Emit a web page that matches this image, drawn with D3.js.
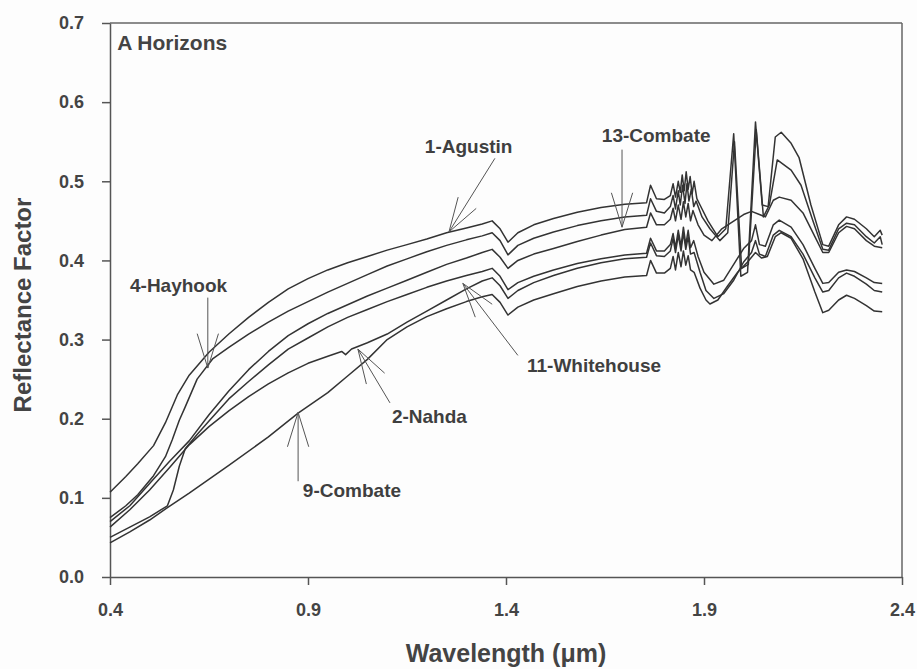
<!DOCTYPE html>
<html>
<head>
<meta charset="utf-8">
<script src="https://cdn.jsdelivr.net/npm/d3@7"></script>
<style>
  body { margin: 0; background: #fdfdfd; }
  svg { display: block; font-family: "Liberation Sans", Arial, sans-serif; }
  .axis path, .axis line { stroke: #555; stroke-width: 1.5; }
  .axis text { font-size: 18px; font-weight: bold; fill: #444; }
  .spectrum { fill: none; stroke: #333; stroke-width: 1.5; stroke-linejoin: round; }
  .note { font-size: 19px; font-weight: bold; fill: #3f3f3f; }
  .pointer { stroke: #555; stroke-width: 1; fill: none; }
</style>
</head>
<body>
<div id="chart"></div>
<script>
// tick values
var xTicks = [0.4, 0.9, 1.4, 1.9, 2.4];
var yTicks = [0.0, 0.1, 0.2, 0.3, 0.4, 0.5, 0.6, 0.7];

// spectra, [wavelength (um), reflectance factor]
var agustin = [[0.40,0.107],[0.44,0.127],[0.47,0.143],[0.51,0.166],[0.54,0.195],[0.57,0.23],[0.60,0.255],[0.65,0.284],[0.70,0.307],[0.75,0.328],[0.80,0.347],[0.85,0.364],[0.90,0.377],[0.95,0.388],[1.00,0.397],[1.05,0.405],[1.10,0.413],[1.15,0.42],[1.20,0.427],[1.25,0.435],[1.30,0.441],[1.34,0.446],[1.365,0.45],[1.385,0.44],[1.405,0.423],[1.43,0.435],[1.47,0.445],[1.52,0.453],[1.58,0.461],[1.64,0.467],[1.70,0.471],[1.755,0.473],[1.765,0.495],[1.78,0.478],[1.80,0.477],[1.815,0.482],[1.822,0.497],[1.828,0.48],[1.835,0.5],[1.84,0.486],[1.845,0.508],[1.85,0.488],[1.855,0.512],[1.86,0.49],[1.865,0.506],[1.87,0.484],[1.875,0.5],[1.882,0.478],[1.89,0.47],[1.91,0.45],[1.935,0.43],[1.955,0.44],[1.975,0.56],[1.993,0.38],[2.01,0.385],[2.03,0.575],[2.047,0.47],[2.062,0.468],[2.08,0.556],[2.095,0.562],[2.12,0.548],[2.14,0.53],[2.17,0.47],[2.20,0.42],[2.215,0.418],[2.24,0.445],[2.26,0.455],[2.28,0.452],[2.31,0.44],[2.33,0.43],[2.345,0.438],[2.35,0.432]];

var hayhook = [[0.40,0.075],[0.44,0.09],[0.47,0.104],[0.51,0.128],[0.54,0.152],[0.557,0.173],[0.575,0.198],[0.59,0.215],[0.62,0.25],[0.66,0.276],[0.70,0.29],[0.75,0.307],[0.80,0.322],[0.85,0.336],[0.90,0.348],[0.95,0.36],[1.00,0.371],[1.05,0.382],[1.10,0.393],[1.15,0.402],[1.20,0.411],[1.25,0.419],[1.30,0.426],[1.34,0.431],[1.365,0.435],[1.385,0.425],[1.405,0.407],[1.43,0.419],[1.47,0.428],[1.52,0.436],[1.58,0.444],[1.64,0.45],[1.70,0.455],[1.755,0.457],[1.765,0.478],[1.78,0.462],[1.80,0.46],[1.815,0.468],[1.822,0.482],[1.828,0.465],[1.835,0.488],[1.84,0.47],[1.846,0.495],[1.852,0.472],[1.857,0.497],[1.862,0.475],[1.868,0.49],[1.874,0.468],[1.88,0.475],[1.895,0.455],[1.915,0.44],[1.94,0.425],[1.96,0.435],[1.977,0.55],[1.995,0.39],[2.012,0.395],[2.032,0.565],[2.05,0.455],[2.065,0.47],[2.085,0.527],[2.12,0.514],[2.145,0.495],[2.175,0.45],[2.20,0.414],[2.215,0.413],[2.24,0.44],[2.26,0.447],[2.28,0.445],[2.31,0.43],[2.33,0.422],[2.345,0.43],[2.35,0.42]];

var combate13 = [[0.40,0.07],[0.45,0.09],[0.50,0.118],[0.55,0.146],[0.60,0.172],[0.65,0.205],[0.70,0.235],[0.75,0.262],[0.80,0.285],[0.85,0.305],[0.90,0.32],[0.95,0.333],[1.00,0.344],[1.05,0.355],[1.10,0.365],[1.15,0.375],[1.20,0.385],[1.25,0.395],[1.30,0.403],[1.34,0.41],[1.365,0.414],[1.385,0.404],[1.405,0.39],[1.43,0.4],[1.47,0.408],[1.52,0.415],[1.58,0.424],[1.64,0.432],[1.70,0.439],[1.755,0.442],[1.765,0.46],[1.78,0.445],[1.80,0.445],[1.815,0.452],[1.822,0.466],[1.828,0.45],[1.835,0.47],[1.842,0.452],[1.848,0.474],[1.854,0.455],[1.86,0.472],[1.866,0.45],[1.872,0.463],[1.885,0.445],[1.90,0.432],[1.92,0.425],[1.945,0.44],[1.97,0.448],[2.0,0.458],[2.02,0.462],[2.04,0.458],[2.055,0.455],[2.075,0.476],[2.09,0.48],[2.12,0.476],[2.15,0.46],[2.18,0.43],[2.20,0.41],[2.215,0.41],[2.24,0.435],[2.26,0.443],[2.28,0.44],[2.31,0.425],[2.33,0.418],[2.35,0.416]];

var whitehouse = [[0.40,0.05],[0.45,0.063],[0.50,0.076],[0.545,0.09],[0.56,0.11],[0.575,0.14],[0.59,0.162],[0.62,0.18],[0.65,0.197],[0.70,0.225],[0.75,0.247],[0.80,0.268],[0.85,0.288],[0.90,0.302],[0.95,0.316],[1.00,0.328],[1.05,0.338],[1.10,0.348],[1.15,0.357],[1.20,0.366],[1.25,0.374],[1.30,0.381],[1.34,0.386],[1.365,0.39],[1.385,0.38],[1.405,0.363],[1.43,0.372],[1.47,0.38],[1.52,0.388],[1.58,0.396],[1.64,0.402],[1.70,0.407],[1.755,0.409],[1.765,0.428],[1.78,0.412],[1.80,0.412],[1.815,0.42],[1.822,0.434],[1.828,0.416],[1.835,0.438],[1.842,0.418],[1.848,0.442],[1.854,0.42],[1.86,0.438],[1.866,0.416],[1.874,0.425],[1.885,0.405],[1.90,0.385],[1.925,0.37],[1.95,0.375],[1.975,0.395],[2.0,0.415],[2.02,0.425],[2.03,0.445],[2.04,0.42],[2.055,0.418],[2.075,0.445],[2.09,0.451],[2.12,0.442],[2.15,0.42],[2.18,0.39],[2.20,0.371],[2.215,0.372],[2.24,0.385],[2.26,0.388],[2.28,0.386],[2.31,0.378],[2.33,0.372],[2.35,0.371]];

var nahda = [[0.40,0.063],[0.45,0.085],[0.50,0.11],[0.55,0.138],[0.60,0.167],[0.65,0.19],[0.70,0.21],[0.75,0.228],[0.80,0.244],[0.85,0.258],[0.90,0.27],[0.95,0.279],[0.985,0.285],[0.995,0.281],[1.01,0.288],[1.05,0.296],[1.10,0.307],[1.15,0.322],[1.20,0.336],[1.25,0.35],[1.30,0.364],[1.34,0.374],[1.365,0.378],[1.385,0.368],[1.405,0.352],[1.43,0.362],[1.47,0.372],[1.52,0.381],[1.58,0.39],[1.64,0.397],[1.70,0.402],[1.755,0.404],[1.765,0.422],[1.78,0.406],[1.80,0.405],[1.815,0.412],[1.822,0.428],[1.828,0.41],[1.835,0.432],[1.842,0.412],[1.848,0.435],[1.854,0.414],[1.86,0.43],[1.866,0.408],[1.875,0.41],[1.89,0.385],[1.905,0.362],[1.925,0.352],[1.95,0.358],[1.975,0.375],[2.0,0.398],[2.02,0.41],[2.03,0.425],[2.04,0.408],[2.055,0.405],[2.075,0.432],[2.09,0.438],[2.12,0.43],[2.15,0.408],[2.18,0.378],[2.20,0.36],[2.215,0.362],[2.24,0.378],[2.26,0.384],[2.28,0.38],[2.31,0.37],[2.33,0.362],[2.35,0.36]];

var combate9 = [[0.40,0.043],[0.45,0.057],[0.50,0.072],[0.546,0.088],[0.60,0.106],[0.70,0.141],[0.80,0.177],[0.875,0.207],[0.95,0.233],[1.00,0.254],[1.05,0.275],[1.10,0.3],[1.15,0.316],[1.20,0.329],[1.25,0.339],[1.30,0.348],[1.34,0.354],[1.365,0.357],[1.385,0.347],[1.405,0.331],[1.43,0.341],[1.47,0.35],[1.52,0.358],[1.58,0.367],[1.64,0.374],[1.70,0.379],[1.755,0.381],[1.765,0.4],[1.78,0.384],[1.80,0.384],[1.815,0.39],[1.822,0.405],[1.828,0.388],[1.835,0.41],[1.842,0.392],[1.848,0.412],[1.854,0.394],[1.86,0.406],[1.866,0.388],[1.875,0.385],[1.89,0.365],[1.905,0.35],[1.915,0.345],[1.935,0.35],[1.96,0.368],[1.985,0.385],[2.01,0.398],[2.03,0.41],[2.045,0.403],[2.06,0.405],[2.08,0.43],[2.095,0.435],[2.12,0.428],[2.15,0.402],[2.18,0.36],[2.20,0.334],[2.215,0.337],[2.24,0.35],[2.26,0.356],[2.28,0.352],[2.31,0.343],[2.33,0.336],[2.35,0.335]];

var spectra = [agustin, hayhook, combate13, whitehouse, nahda, combate9];

// labels with pointer start and tip, in data units
var noteNames = ["1-Agustin", "13-Combate", "4-Hayhook", "11-Whitehouse", "2-Nahda", "9-Combate"];
var noteText  = [[1.195,0.536],[1.642,0.5497],[0.4505,0.360],[1.453,0.259],[1.112,0.1946],[0.887,0.101]];
var noteFrom  = [[1.372,0.529],[1.693,0.54],[0.647,0.353],[1.43,0.28],[1.107,0.22],[0.875,0.121]];
var noteTip   = [[1.256,0.436],[1.693,0.442],[0.647,0.264],[1.291,0.371],[1.026,0.288],[0.875,0.208]];

var W = 917, H = 669;
var margin = {top: 23, right: 15, bottom: 92, left: 110},
    width = W - margin.left - margin.right,
    height = H - margin.top - margin.bottom;

var svg = d3.select("#chart").append("svg")
    .attr("width", W)
    .attr("height", H)
    .append("g")
    .attr("transform", "translate(" + margin.left + "," + margin.top + ")");

var x = d3.scaleLinear().domain([0.4, 2.4]).range([0, width]);
var y = d3.scaleLinear().domain([0, 0.7]).range([height, 0]);

// frame top + right
svg.append("line").attr("x1", 0).attr("x2", width).attr("y1", 0).attr("y2", 0)
    .attr("stroke", "#666").attr("stroke-width", 1.5);
svg.append("line").attr("x1", width).attr("x2", width).attr("y1", 0).attr("y2", height)
    .attr("stroke", "#666").attr("stroke-width", 1.5);

svg.append("g")
    .attr("class", "axis")
    .call(d3.axisLeft(y).tickValues(yTicks).tickFormat(d3.format(".1f"))
        .tickSize(8).tickSizeOuter(0).tickPadding(18));

svg.append("g")
    .attr("class", "axis")
    .attr("transform", "translate(0," + height + ")")
    .call(d3.axisBottom(x).tickValues(xTicks).tickFormat(d3.format(".1f"))
        .tickSize(8).tickSizeOuter(0).tickPadding(18));

var line = d3.line()
    .x(function(d) { return x(d[0]); })
    .y(function(d) { return y(d[1]); });

svg.selectAll(".spectrum")
    .data(spectra)
    .enter().append("path")
    .attr("class", "spectrum")
    .attr("d", line);

// pointers with open arrow heads
noteNames.forEach(function(name, i) {
    var x0 = x(noteFrom[i][0]), y0 = y(noteFrom[i][1]);
    var x1 = x(noteTip[i][0]),  y1 = y(noteTip[i][1]);
    svg.append("line").attr("class", "pointer")
        .attr("x1", x0).attr("y1", y0).attr("x2", x1).attr("y2", y1);
    var ang = Math.atan2(y0 - y1, x0 - x1);
    [-0.3, 0.3].forEach(function(off) {
        svg.append("line").attr("class", "pointer")
            .attr("x1", x1).attr("y1", y1)
            .attr("x2", x1 + 36 * Math.cos(ang + off))
            .attr("y2", y1 + 36 * Math.sin(ang + off));
    });
    svg.append("text").attr("class", "note")
        .attr("x", x(noteText[i][0]))
        .attr("y", y(noteText[i][1]))
        .text(name);
});

svg.append("text")
    .attr("x", x(0.418))
    .attr("y", y(0.666))
    .style("font-size", "21px").style("font-weight", "bold").style("fill", "#444")
    .text("A Horizons");

// axis titles
svg.append("text")
    .attr("x", x(1.4))
    .attr("y", height + 85)
    .style("text-anchor", "middle")
    .style("font-size", "25px").style("font-weight", "bold").style("fill", "#444")
    .text("Wavelength (\u03bcm)");

svg.append("text")
    .attr("transform", "translate(" + (31 - margin.left) + "," + (305 - margin.top) + ") rotate(-90)")
    .style("text-anchor", "middle")
    .style("font-size", "24px").style("font-weight", "bold").style("fill", "#444")
    .text("Reflectance Factor");
</script>
</body>
</html>
